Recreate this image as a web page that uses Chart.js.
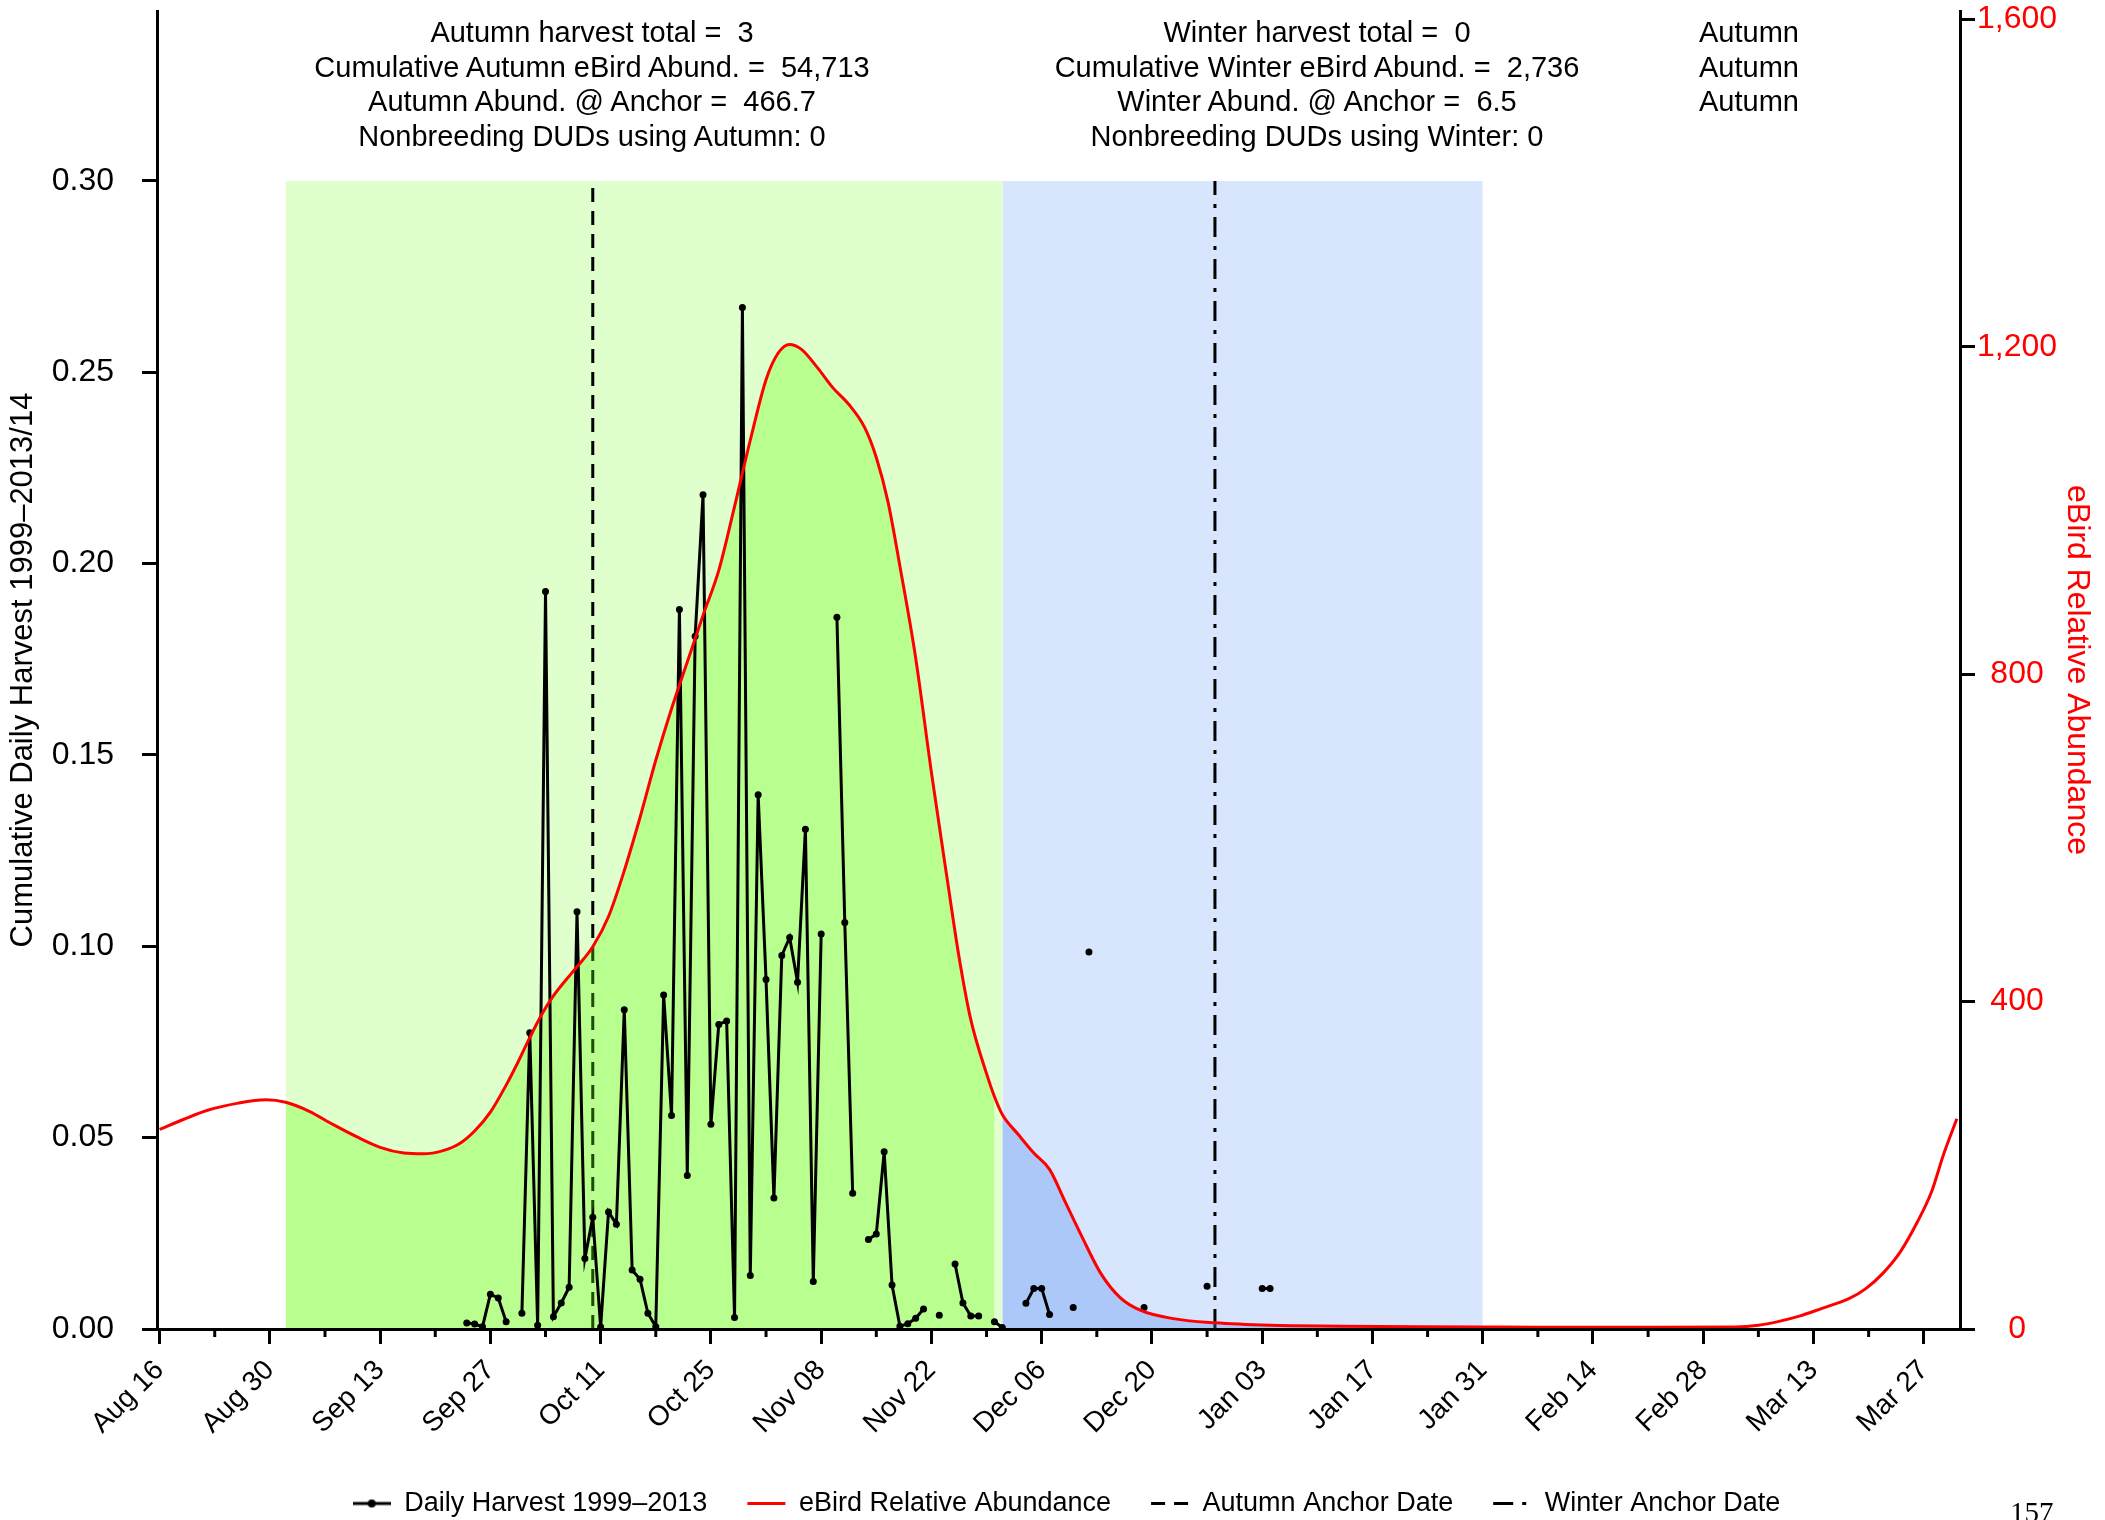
<!DOCTYPE html>
<html>
<head>
<meta charset="utf-8">
<script src="https://cdn.jsdelivr.net/npm/chart.js@4.4.1/dist/chart.umd.min.js"></script>
<style>
  html, body { margin: 0; padding: 0; background: #fff; overflow: hidden; }
  #wrap { position: relative; width: 2105px; height: 1520px; overflow: hidden; }
  #myChart { position: absolute; left: 0; top: 0; }
  .note {
    position: absolute; top: 15px;
    font-family: 'Liberation Sans', Arial, sans-serif;
    font-size: 29px; line-height: 34.5px; color: #000;
    text-align: center; white-space: pre; transform: translateX(-50%);
  }
  #page {
    position: absolute; left: 2010px; top: 1498px;
    font-family: 'Liberation Serif', 'Times New Roman', serif;
    font-size: 29px; line-height: 29px; color: #000;
  }
</style>
</head>
<body>
<div id="wrap">
  <canvas id="myChart" width="2105" height="1527"></canvas>
  <div class="note" style="left:592px">Autumn harvest total =  3
Cumulative Autumn eBird Abund. =  54,713
Autumn Abund. @ Anchor =  466.7
Nonbreeding DUDs using Autumn: 0</div>
  <div class="note" style="left:1317px">Winter harvest total =  0
Cumulative Winter eBird Abund. =  2,736
Winter Abund. @ Anchor =  6.5
Nonbreeding DUDs using Winter: 0</div>
  <div class="note" style="left:1749px">Autumn
Autumn
Autumn</div>
  <div id="page">157</div>
</div>

<script>
// days are counted from Aug 16
var tickDays = [0, 14, 28, 42, 56, 70, 84, 98, 112, 126, 140, 154, 168, 182, 196, 210, 224];
var tickLabels = ['Aug 16', 'Aug 30', 'Sep 13', 'Sep 27', 'Oct 11', 'Oct 25', 'Nov 08', 'Nov 22',
                  'Dec 06', 'Dec 20', 'Jan 03', 'Jan 17', 'Jan 31', 'Feb 14', 'Feb 28', 'Mar 13', 'Mar 27'];
var minorTickDays = [7, 21, 35, 49, 63, 77, 91, 105, 119, 133, 147, 161, 175, 189, 203, 217];
var harvestTicks = [0, 0.05, 0.10, 0.15, 0.20, 0.25, 0.30];
var abundTicks = [0, 400, 800, 1200, 1600];

// daily harvest (null = no data, breaks the line)
var harvestDays = [39, 40, 41, 42, 43, 44, 45, 46, 47, 48, 49, 50, 51, 52, 53, 54, 55, 56, 57, 58,
                   59, 60, 61, 62, 63, 64, 65, 66, 67, 68, 69, 70, 71, 72, 73, 74, 75, 76, 77, 78,
                   79, 80, 81, 82, 83, 84, 85, 86, 87, 88, 89, 90, 91, 92, 93, 94, 95, 96, 97, 98,
                   99, 100, 101, 102, 103, 104, 105, 106, 107, 108, 110, 111, 112, 113, 114, 116, 117, 118, 119,
                   125, 126, 133, 134, 140, 141];
var harvestValues = [0.0016, 0.0013, 0.0006, 0.0091, 0.0081, 0.0019, null, 0.0041, 0.0774, 0.0010,
                     0.1927, 0.0032, 0.0068, 0.0109, 0.1090, 0.0184, 0.0292, 0.0005, 0.0306, 0.0274,
                     0.0834, 0.0154, 0.0130, 0.0041, 0.0006, 0.0873, 0.0558, 0.1880, 0.0401, 0.1810,
                     0.2180, 0.0535, 0.0796, 0.0805, 0.0030, 0.2669, 0.0140, 0.1396, 0.0913, 0.0342,
                     0.0976, 0.1023, 0.0906, 0.1306, 0.0124, 0.1032, null, 0.1860, 0.1062, 0.0355,
                     null, 0.0234, 0.0248, 0.0463, 0.0115, 0.0007, 0.0014, 0.0028, 0.0052, null,
                     0.0036, null, 0.0170, 0.0068, 0.0034, 0.0034, null, 0.0019, 0.0004, null,
                     0.0067, 0.0106, 0.0106, 0.0038, null, 0.0056, null, 0.0985, null,
                     0.0056, null, 0.0112, null, 0.0106, 0.0106];

// eBird relative abundance curve
var abundDays = [0, 3, 6, 10, 13.5, 16, 19, 22, 25, 28, 31, 33.5, 36, 38, 40, 42, 44, 45.5, 47, 48.5,
                 50, 52.5, 55, 57, 59, 61, 63, 65, 67, 69, 71, 73, 75, 77, 78.5, 80, 81.5, 83.5, 85.5, 87.5,
                 89.5, 91, 92.5, 94, 96, 98, 100, 101.5, 103, 105, 106, 107, 109, 111, 113, 115, 117, 119.5,
                 122, 124.5, 128.5, 134, 141, 150, 160, 168, 175, 190, 200, 203, 205.5, 208.3, 211, 214.5,
                 216.6, 218.8, 221, 223.2, 225, 226.5, 228.2];
var abundValues = [244, 256, 267, 276, 280, 277, 266, 250, 235, 222, 215, 214, 218, 226, 242, 265, 298, 326, 356, 384,
                   407, 437, 467, 504, 560, 625, 695, 758, 815, 872, 927, 1005, 1086, 1160, 1192, 1203, 1197, 1175, 1150, 1130,
                   1102, 1065, 1010, 932, 820, 680, 550, 455, 378, 312, 284, 262, 238, 215, 195, 155, 115, 68,
                   38, 23, 13, 7.5, 4.5, 3.5, 2.8, 2.4, 2.2, 2.2, 2.5, 4.5, 9, 16, 25, 37,
                   49, 68, 94, 131, 168, 213, 257];

// seasons and anchors
var autumnStart = 16, autumnFillEnd = 106, winterStart = 107, winterEnd = 168;
var autumnAnchor = 55, winterAnchor = 134;
var bandTop = 0.30;

function toPoints(xs, ys) {
  return xs.map(function (x, i) { return {x: x, y: ys[i]}; });
}

var abundPoints = toPoints(abundDays, abundValues);
var autumnFill = abundPoints.filter(function (p) { return p.x >= autumnStart && p.x <= autumnFillEnd; });
var winterFill = abundPoints.filter(function (p) { return p.x >= winterStart && p.x <= winterEnd; });

Chart.defaults.font.family = "'Liberation Sans', Arial, sans-serif";
Chart.defaults.color = '#000';

var autumnDash = [14, 9];
var winterDash = [20, 9, 4, 9];

// legend sample: line with a dot
var harvestIcon = document.createElement('canvas');
harvestIcon.width = 38;
harvestIcon.height = 10;
var ic = harvestIcon.getContext('2d');
ic.strokeStyle = '#000';
ic.lineWidth = 3;
ic.beginPath(); ic.moveTo(0, 5); ic.lineTo(38, 5); ic.stroke();
ic.fillStyle = '#000';
ic.beginPath(); ic.arc(19, 5, 4, 0, Math.PI * 2); ic.fill();

var minorTicks = {
  id: 'minorTicks',
  afterDraw: function (chart) {
    var xs = chart.scales.x, ctx = chart.ctx, bottom = chart.chartArea.bottom;
    ctx.save();
    ctx.strokeStyle = '#000';
    ctx.lineWidth = 3;
    minorTickDays.forEach(function (d) {
      var px = xs.getPixelForValue(d);
      ctx.beginPath();
      ctx.moveTo(px, bottom);
      ctx.lineTo(px, bottom + 8);
      ctx.stroke();
    });
    ctx.restore();
  }
};

function noPad(s) {
  s.paddingTop = 0; s.paddingBottom = 0; s.paddingLeft = 0; s.paddingRight = 0;
}

var config = {
  type: 'line',
  data: {
    datasets: [
      {
        label: 'Autumn season', data: [{x: autumnStart, y: bandTop}, {x: winterStart, y: bandTop}],
        yAxisID: 'y', fill: 'origin', backgroundColor: '#DFFFCC', borderWidth: 0,
        borderColor: 'transparent', pointRadius: 0, order: 10
      },
      {
        label: 'Winter season', data: [{x: winterStart, y: bandTop}, {x: winterEnd, y: bandTop}],
        yAxisID: 'y', fill: 'origin', backgroundColor: '#D7E6FC', borderWidth: 0,
        borderColor: 'transparent', pointRadius: 0, order: 10
      },
      {
        label: 'Autumn Anchor Date', data: [{x: autumnAnchor, y: 0}, {x: autumnAnchor, y: bandTop}],
        yAxisID: 'y', borderColor: '#000', borderWidth: 3, borderDash: autumnDash,
        pointRadius: 0, fill: false, order: 8
      },
      {
        label: 'Winter Anchor Date', data: [{x: winterAnchor, y: 0}, {x: winterAnchor, y: bandTop}],
        yAxisID: 'y', borderColor: '#000', borderWidth: 3, borderDash: winterDash,
        pointRadius: 0, fill: false, order: 8
      },
      {
        label: 'Autumn fill', data: autumnFill, yAxisID: 'y2', fill: 'origin',
        backgroundColor: 'rgba(100,255,4,0.3)', borderWidth: 0, borderColor: 'transparent',
        pointRadius: 0, cubicInterpolationMode: 'monotone', order: 6
      },
      {
        label: 'Winter fill', data: winterFill, yAxisID: 'y2', fill: 'origin',
        backgroundColor: 'rgba(68,133,239,0.3)', borderWidth: 0, borderColor: 'transparent',
        pointRadius: 0, cubicInterpolationMode: 'monotone', order: 6
      },
      {
        label: 'Daily Harvest 1999–2013', data: toPoints(harvestDays, harvestValues), yAxisID: 'y',
        borderColor: '#000', borderWidth: 3, pointRadius: 3.5, pointBackgroundColor: '#000',
        pointBorderWidth: 0, pointHoverRadius: 3.5, spanGaps: false, fill: false, tension: 0, order: 2
      },
      {
        label: 'eBird Relative Abundance', data: abundPoints, yAxisID: 'y2',
        borderColor: '#FF0000', borderWidth: 3, pointRadius: 0, fill: false,
        cubicInterpolationMode: 'monotone', order: 1
      }
    ]
  },
  options: {
    responsive: false,
    animation: false,
    devicePixelRatio: 1,
    layout: { padding: { top: 11, left: 28, right: 0, bottom: 0 } },
    plugins: {
      tooltip: { enabled: false },
      legend: {
        position: 'bottom',
        labels: {
          usePointStyle: true,
          pointStyleWidth: 38,
          padding: 40,
          font: { size: 27 },
          color: '#000',
          generateLabels: function () {
            return [
              { text: 'Daily Harvest 1999–2013', pointStyle: harvestIcon, fillStyle: '#000',
                strokeStyle: '#000', lineWidth: 0, datasetIndex: 6 },
              { text: 'eBird Relative Abundance', pointStyle: 'line', fillStyle: '#FF0000',
                strokeStyle: '#FF0000', lineWidth: 3, datasetIndex: 7 },
              { text: 'Autumn Anchor Date', pointStyle: 'line', fillStyle: '#000',
                strokeStyle: '#000', lineWidth: 3, lineDash: autumnDash, datasetIndex: 2 },
              { text: 'Winter Anchor Date', pointStyle: 'line', fillStyle: '#000',
                strokeStyle: '#000', lineWidth: 3, lineDash: winterDash, datasetIndex: 3 }
            ];
          }
        }
      }
    },
    scales: {
      x: {
        type: 'linear',
        min: -0.33,
        max: 228.6,
        afterBuildTicks: function (s) { s.ticks = tickDays.map(function (v) { return {value: v}; }); },
        afterFit: function (s) { s.height = 121; noPad(s); },
        ticks: {
          autoSkip: false, minRotation: 45, maxRotation: 45, padding: 10,
          font: { size: 28 }, color: '#000',
          callback: function (v, i) { return tickLabels[i]; }
        },
        grid: { drawOnChartArea: false, color: '#000', lineWidth: 3, tickLength: 15 },
        border: { display: true, color: '#000', width: 3, z: 1 }
      },
      y: {
        position: 'left',
        min: 0,
        max: 0.3444,
        afterBuildTicks: function (s) { s.ticks = harvestTicks.map(function (v) { return {value: v}; }); },
        afterFit: function (s) { s.width = 129; noPad(s); },
        ticks: {
          padding: 28, font: { size: 32 }, color: '#000',
          callback: function (v) { return v.toFixed(2); }
        },
        title: {
          display: true, text: 'Cumulative Daily Harvest 1999–2013/14',
          font: { size: 31 }, color: '#000', padding: { top: -23, bottom: 0 }
        },
        grid: { drawOnChartArea: false, color: '#000', lineWidth: 3, tickLength: 15 },
        border: { display: true, color: '#000', width: 3, z: 1 }
      },
      y2: {
        position: 'right',
        min: 0,
        max: 1610.5,
        afterBuildTicks: function (s) { s.ticks = abundTicks.map(function (v) { return {value: v}; }); },
        afterFit: function (s) { s.width = 145; noPad(s); },
        ticks: {
          padding: 2, crossAlign: 'center', font: { size: 32 }, color: '#FF0000',
          callback: function (v) { return v.toLocaleString('en-US'); }
        },
        title: {
          display: true, text: 'eBird Relative Abundance',
          font: { size: 32 }, color: '#FF0000', padding: { top: 9, bottom: 0 }
        },
        grid: { drawOnChartArea: false, color: '#000', lineWidth: 3, tickLength: 15 },
        border: { display: true, color: '#000', width: 3, z: 1 }
      }
    }
  },
  plugins: [minorTicks]
};

var myChart = new Chart(document.getElementById('myChart'), config);
</script>
</body>
</html>
